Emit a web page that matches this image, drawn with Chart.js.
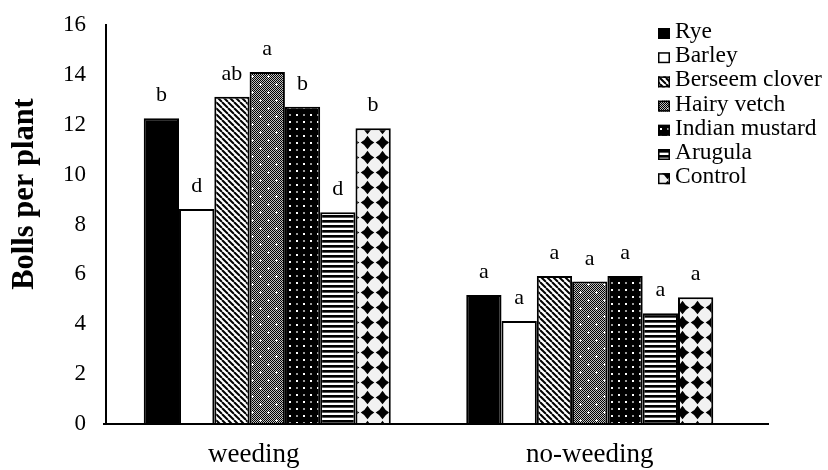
<!DOCTYPE html>
<html>
<head>
<meta charset="utf-8">
<script src="https://cdn.jsdelivr.net/npm/chart.js@4"></script>
<style>
  html, body { margin: 0; padding: 0; background: #fff; }
  #wrap { width: 828px; height: 470px; }
</style>
</head>
<body>
<div id="wrap"><canvas id="c" width="828" height="470"></canvas></div>
<script>
// Bolls per plant for each cover crop under the two weed-control regimes
const categories = ['weeding', 'no-weeding'];
const cropNames = ['Rye', 'Barley', 'Berseem clover', 'Hairy vetch', 'Indian mustard', 'Arugula', 'Control'];

const rye           = [12.26, 5.17];
const barley        = [8.62, 4.13];
const berseemClover = [13.12, 5.93];
const hairyVetch    = [14.12, 5.71];
const indianMustard = [12.72, 5.93];
const arugula       = [8.49, 4.44];
const control       = [11.86, 5.08];

// Mean-separation letters shown above each bar
const ryeLetters           = ['b', 'a'];
const barleyLetters        = ['d', 'a'];
const berseemCloverLetters = ['ab', 'a'];
const hairyVetchLetters    = ['a', 'a'];
const indianMustardLetters = ['b', 'a'];
const arugulaLetters       = ['d', 'a'];
const controlLetters       = ['b', 'a'];

const yTicks = [0, 2, 4, 6, 8, 10, 12, 14, 16];
const yTitle = 'Bolls per plant';

const SERIF = "'Liberation Serif', 'Times New Roman', Times, serif";

const canvas = document.getElementById('c');
const ctx = canvas.getContext('2d');

// ---- fill patterns ----
function tile(w, h, draw) {
  const c = document.createElement('canvas');
  c.width = w; c.height = h;
  const g = c.getContext('2d');
  draw(g, w, h);
  return ctx.createPattern(c, 'repeat');
}

const diagonalFill = tile(6, 6, (g, w, h) => {
  g.fillStyle = '#fff'; g.fillRect(0, 0, w, h);
  g.strokeStyle = '#000'; g.lineWidth = 2;
  for (let k = -6; k <= 6; k += 6) {
    g.beginPath(); g.moveTo(k, 0); g.lineTo(k + 6, 6); g.stroke();
  }
});

const checkerCrossFill = tile(16, 16, (g, w, h) => {
  g.fillStyle = '#fff'; g.fillRect(0, 0, w, h);
  g.fillStyle = '#000';
  for (let y = 0; y < h; y++) for (let x = 0; x < w; x++) if ((x + y) % 2 === 0) g.fillRect(x, y, 1, 1);
  g.fillStyle = 'rgba(0,0,0,0.25)'; g.fillRect(0, 0, w, h);
  g.fillStyle = '#fff';
  [[4, 4], [12, 12]].forEach(([cx, cy]) => {
    g.fillRect(cx - 1, cy, 3, 1);
    g.fillRect(cx, cy - 1, 1, 3);
  });
});

const dottedDarkFill = tile(14, 14, (g, w, h) => {
  g.fillStyle = '#000'; g.fillRect(0, 0, w, h);
  g.fillStyle = '#fff'; g.fillRect(2, 2, 2, 2); g.fillRect(9, 9, 2, 2);
  g.fillStyle = '#9a9a9a'; g.fillRect(9, 2, 2, 2); g.fillRect(2, 9, 2, 2);
});

const horizontalFill = tile(4, 5, (g, w, h) => {
  g.fillStyle = '#fff'; g.fillRect(0, 0, w, h);
  g.fillStyle = '#000'; g.fillRect(0, 0, w, 2);
  g.fillStyle = '#555'; g.fillRect(0, 2, w, 1);
});

const diamondFill = tile(15, 15, (g, w, h) => {
  g.fillStyle = '#f2f2f2'; g.fillRect(0, 0, w, h);
  g.fillStyle = '#000';
  const cx = 7.5, cy = 7.5, r = 6.8, k = 2.4;
  g.beginPath();
  g.moveTo(cx, cy - r);
  g.quadraticCurveTo(cx + k, cy - k, cx + r, cy);
  g.quadraticCurveTo(cx + k, cy + k, cx, cy + r);
  g.quadraticCurveTo(cx - k, cy + k, cx - r, cy);
  g.quadraticCurveTo(cx - k, cy - k, cx, cy - r);
  g.fill();
});

const seriesValues = [rye, barley, berseemClover, hairyVetch, indianMustard, arugula, control];
const seriesLetters = [ryeLetters, barleyLetters, berseemCloverLetters, hairyVetchLetters,
                       indianMustardLetters, arugulaLetters, controlLetters];
const seriesFills = ['#000', '#fff', diagonalFill, checkerCrossFill, dottedDarkFill, horizontalFill, diamondFill];

const datasets = cropNames.map((name, i) => ({
  label: name,
  data: seriesValues[i],
  letters: seriesLetters[i],
  backgroundColor: seriesFills[i],
  borderColor: '#000',
  borderWidth: 2,
}));

// ---- decorations drawn on top of the chart ----
const decorations = {
  id: 'decorations',
  afterDatasetsDraw(chart) {
    const g = chart.ctx;
    const area = chart.chartArea;
    g.save();

    // category axis line, running a little past the last group
    g.strokeStyle = '#000';
    g.lineWidth = 2;
    g.beginPath();
    g.moveTo(area.left - 3, area.bottom);
    g.lineTo(area.right + 18, area.bottom);
    g.stroke();

    // letters above bars
    g.fillStyle = '#000';
    g.font = '22px ' + SERIF;
    g.textAlign = 'center';
    g.textBaseline = 'alphabetic';
    chart.data.datasets.forEach((ds, di) => {
      const meta = chart.getDatasetMeta(di);
      meta.data.forEach((bar, j) => {
        g.fillText(ds.letters[j], bar.x, bar.y - 17);
      });
    });

    // legend
    g.textAlign = 'left';
    g.font = '23.5px ' + SERIF;
    chart.data.datasets.forEach((ds, di) => {
      const base = 38 + di * 24.2;
      g.fillStyle = ds.backgroundColor;
      g.fillRect(658, base - 10, 12, 11);
      g.strokeStyle = '#000';
      g.lineWidth = 1.5;
      g.strokeRect(658.75, base - 9.25, 10.5, 9.5);
      g.fillStyle = '#000';
      g.fillText(ds.label, 675, base);
    });

    // value axis title
    g.translate(25, 194);
    g.rotate(-Math.PI / 2);
    g.font = 'bold 30.5px ' + SERIF;
    g.textAlign = 'center';
    g.textBaseline = 'middle';
    g.fillText(yTitle, 0, 0);
    g.restore();
  }
};

new Chart(canvas, {
  type: 'bar',
  data: { labels: categories, datasets },
  plugins: [decorations],
  options: {
    responsive: false,
    animation: false,
    devicePixelRatio: 1,
    layout: { padding: { top: 25, right: 77, left: 0, bottom: 0 } },
    plugins: { legend: { display: false }, tooltip: { enabled: false } },
    datasets: { bar: { barPercentage: 1, categoryPercentage: 0.766 } },
    scales: {
      x: {
        grid: { display: false, drawTicks: false },
        border: { display: false },
        ticks: {
          color: '#000', font: { family: SERIF, size: 27 }, padding: 15, maxRotation: 0,
          // the first group's label sits a little left of centre
          callback(value, index) {
            const text = this.getLabelForValue(value);
            return index === 0 ? text + '    ' : text;
          }
        },
        afterFit(s) { s.height = 46; s.paddingLeft = 0; s.paddingRight = 0; }
      },
      y: {
        min: yTicks[0],
        max: yTicks[yTicks.length - 1],
        afterBuildTicks(s) { s.ticks = yTicks.map(v => ({ value: v })); },
        grid: { display: false, drawTicks: false },
        border: { display: true, color: '#000', width: 2 },
        ticks: { color: '#000', font: { family: SERIF, size: 23 }, padding: 20 },
        afterFit(s) { s.width = 106; s.paddingTop = 0; s.paddingBottom = 0; }
      }
    }
  }
});
</script>
</body>
</html>
